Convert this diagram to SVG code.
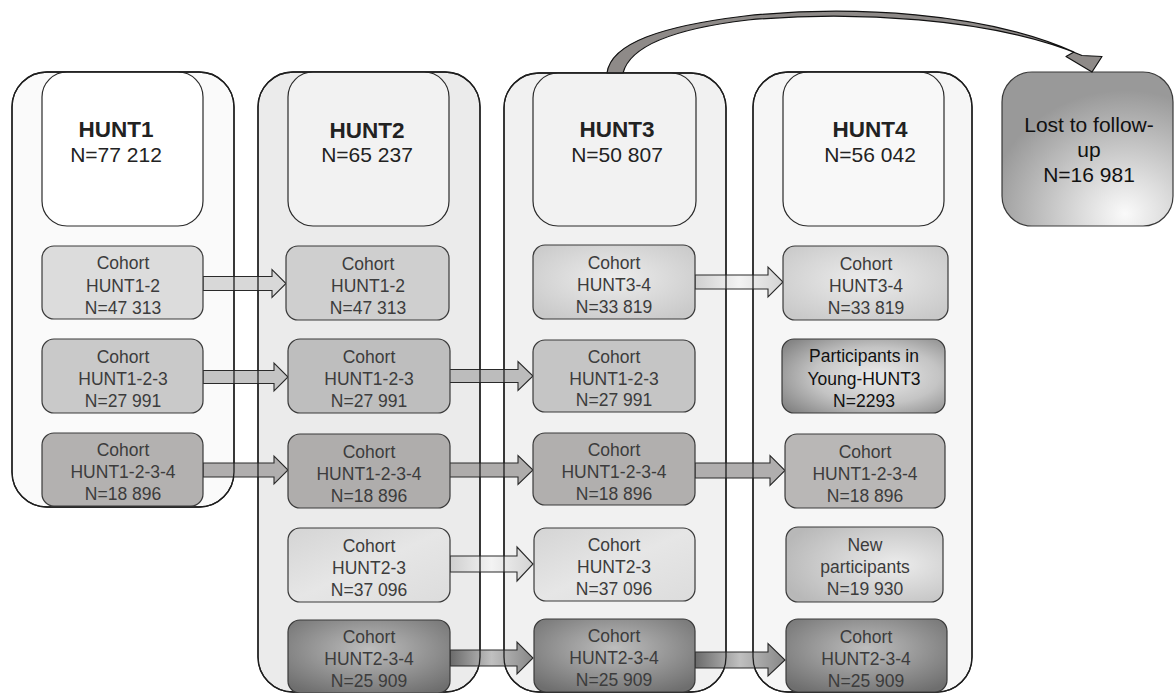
<svg xmlns="http://www.w3.org/2000/svg" width="1175" height="693" viewBox="0 0 1175 693">
<style>
.outer{stroke:#1e1e1e;stroke-width:1.3}
.edge{fill:none;stroke:#1e1e1e;stroke-width:1.3}
.head{stroke:#2a2a2a;stroke-width:1.2}
.box{stroke:#3a3a3a;stroke-width:1.2}
.arr{stroke:#2a2a2a;stroke-width:1.1}
.h{font-family:"Liberation Sans",Arial,sans-serif;font-weight:bold;font-size:22.5px;fill:#222;text-anchor:middle}
.n{font-family:"Liberation Sans",Arial,sans-serif;font-size:21px;fill:#222;text-anchor:middle}
.t{font-family:"Liberation Sans",Arial,sans-serif;font-size:17.5px;fill:#3c3c3c;text-anchor:middle}
.tb{font-family:"Liberation Sans",Arial,sans-serif;font-size:17.5px;fill:#111;text-anchor:middle}
.lost{font-family:"Liberation Sans",Arial,sans-serif;font-size:21px;fill:#111;text-anchor:middle}
</style>
<defs>
<linearGradient id="gLight" x1="0" y1="0" x2="1" y2="1">
<stop offset="0" stop-color="#d4d4d4"/><stop offset="0.5" stop-color="#e6e6e6"/><stop offset="1" stop-color="#dcdcdc"/>
</linearGradient>
<radialGradient id="gLightRad" cx="0.5" cy="0.45" r="0.65">
<stop offset="0" stop-color="#ececec"/><stop offset="1" stop-color="#c9c9c9"/>
</radialGradient>
<radialGradient id="gDark" cx="0.5" cy="0.4" r="0.7">
<stop offset="0" stop-color="#bdbdbd"/><stop offset="1" stop-color="#6e6e6e"/>
</radialGradient>
<radialGradient id="gPart" cx="0.58" cy="0.5" r="0.7">
<stop offset="0" stop-color="#ececec"/><stop offset="0.55" stop-color="#c4c4c4"/><stop offset="1" stop-color="#858585"/>
</radialGradient>
<radialGradient id="gNew" cx="0.7" cy="0.5" r="0.75">
<stop offset="0" stop-color="#ececec"/><stop offset="1" stop-color="#b8b8b8"/>
</radialGradient>
<radialGradient id="gLost" cx="0.72" cy="0.92" r="0.8">
<stop offset="0" stop-color="#fafafa"/><stop offset="0.3" stop-color="#dedede"/><stop offset="1" stop-color="#999"/>
</radialGradient>
<linearGradient id="aLight" x1="0" y1="0" x2="1" y2="0">
<stop offset="0" stop-color="#cfcfcf"/><stop offset="0.5" stop-color="#f3f3f3"/><stop offset="1" stop-color="#d3d3d3"/>
</linearGradient>
<linearGradient id="aDark" x1="0" y1="0" x2="1" y2="0">
<stop offset="0" stop-color="#6a6a6a"/><stop offset="0.5" stop-color="#c0c0c0"/><stop offset="1" stop-color="#878787"/>
</linearGradient>
</defs>

<g id="hunt1">
<rect class="outer" x="12" y="72" width="222" height="435" rx="35" fill="#fafafa"/>
<rect class="head" x="42" y="72" width="161" height="154" rx="25" fill="#ffffff"/>
<text class="h" x="116" y="137">HUNT1</text>
<text class="n" x="116" y="162">N=77 212</text>
</g>
<g id="hunt2">
<rect class="outer" x="258" y="72" width="222" height="620" rx="35" fill="#ebebeb"/>
<rect class="head" x="288" y="72" width="161" height="154" rx="25" fill="#f2f2f2"/>
<text class="h" x="367" y="138">HUNT2</text>
<text class="n" x="367" y="162">N=65 237</text>
</g>
<g id="hunt3">
<rect class="outer" x="504" y="73" width="222" height="619" rx="35" fill="#f1f1f1"/>
<rect class="head" x="533" y="73" width="163" height="153" rx="25" fill="#f2f2f2"/>
<text class="h" x="617" y="137">HUNT3</text>
<text class="n" x="617" y="162">N=50 807</text>
</g>
<g id="hunt4">
<rect class="outer" x="753" y="72" width="219" height="620" rx="35" fill="#f6f6f6"/>
<rect class="head" x="783" y="72" width="161" height="154" rx="25" fill="#f8f8f8"/>
<text class="h" x="870" y="137">HUNT4</text>
<text class="n" x="870" y="162">N=56 042</text>
</g>
<g id="lost">
<rect class="box" x="1002" y="72" width="171" height="154" rx="30" fill="url(#gLost)"/>
<text class="lost" x="1089" y="132">Lost to follow-</text>
<text class="lost" x="1089" y="157">up</text>
<text class="lost" x="1089" y="182">N=16 981</text>
</g>

<g id="connectors">
<path class="arr" fill="#d8d8d8" d="M203 276.5 L272 276.5 L272 269.5 L286 283.5 L272 297.5 L272 290.5 L203 290.5 Z"/>
<path class="arr" fill="#c4c4c4" d="M203 370.5 L274 370.5 L274 363 L288 377 L274 391 L274 383.5 L203 383.5 Z"/>
<path class="arr" fill="#b0aeae" d="M203 463 L274 463 L274 456 L288 470 L274 484 L274 477 L203 477 Z"/>
<path class="arr" fill="#bcbcbc" d="M449 369.5 L518 369.5 L518 361.5 L533 376 L518 390.5 L518 382.5 L449 382.5 Z"/>
<path class="arr" fill="#aeacab" d="M449 463 L518 463 L518 455.5 L533 470 L518 484.5 L518 477 L449 477 Z"/>
<path class="arr" fill="url(#aLight)" d="M450 556 L517 556 L517 547 L533 564 L517 581 L517 572 L450 572 Z"/>
<path class="arr" fill="url(#aDark)" d="M450 650 L517 650 L517 642 L533 658 L517 674 L517 666 L450 666 Z"/>
<path class="arr" fill="url(#aLight)" d="M695 275 L768 275 L768 267 L783 282 L768 297 L768 289 L695 289 Z"/>
<path class="arr" fill="#b0aeae" d="M695 463 L770 463 L770 455.5 L785 470.5 L770 485.5 L770 478 L695 478 Z"/>
<path class="arr" fill="url(#aDark)" d="M695 652 L768 652 L768 643.5 L785 660 L768 676 L768 668 L695 668 Z"/>
<path fill="#8e8a88" stroke="#111" stroke-width="1.2" stroke-linejoin="round" d="M607 73 C611 43 662 26 745 16 C850 5 985 12 1074 52 L1066 56.5 L1092 72 L1102 56.5 L1082 55.5 C990 17 850 11 748 20 C672 29 630 46 623 73 Z"/>
</g>

<g id="column-edges">
<rect class="edge" x="12" y="72" width="222" height="435" rx="35"/>
<rect class="edge" x="258" y="72" width="222" height="620" rx="35"/>
<rect class="edge" x="504" y="73" width="222" height="619" rx="35"/>
<rect class="edge" x="753" y="72" width="219" height="620" rx="35"/>
</g>

<g id="c1-r1"><rect class="box" x="42" y="246" width="161" height="73" rx="12" fill="#dcdcdc"/>
<text class="t" x="123" y="269">Cohort</text><text class="t" x="123" y="291.5">HUNT1-2</text><text class="t" x="123" y="313.5">N=47 313</text></g>
<g id="c1-r2"><rect class="box" x="42" y="339" width="161" height="74" rx="12" fill="#c9c9c9"/>
<text class="t" x="123" y="362.5">Cohort</text><text class="t" x="123" y="384.5">HUNT1-2-3</text><text class="t" x="123" y="406.5">N=27 991</text></g>
<g id="c1-r3"><rect class="box" x="42" y="433" width="161" height="73" rx="12" fill="#b3b1b0"/>
<text class="t" x="123" y="456">Cohort</text><text class="t" x="123" y="478">HUNT1-2-3-4</text><text class="t" x="123" y="500">N=18 896</text></g>

<g id="c2-r1"><rect class="box" x="286" y="246" width="163" height="74" rx="12" fill="#cfcfcf"/>
<text class="t" x="368" y="269.5">Cohort</text><text class="t" x="368" y="291.5">HUNT1-2</text><text class="t" x="368" y="313.5">N=47 313</text></g>
<g id="c2-r2"><rect class="box" x="288" y="339" width="162" height="74" rx="12" fill="#bebebe"/>
<text class="t" x="369" y="362.5">Cohort</text><text class="t" x="369" y="384.5">HUNT1-2-3</text><text class="t" x="369" y="406.5">N=27 991</text></g>
<g id="c2-r3"><rect class="box" x="288" y="434" width="162" height="74" rx="12" fill="#afadac"/>
<text class="t" x="369" y="457.5">Cohort</text><text class="t" x="369" y="479.5">HUNT1-2-3-4</text><text class="t" x="369" y="501.5">N=18 896</text></g>
<g id="c2-r4"><rect class="box" x="288" y="528" width="162" height="74" rx="12" fill="url(#gLight)"/>
<text class="t" x="369" y="551.5">Cohort</text><text class="t" x="369" y="573.5">HUNT2-3</text><text class="t" x="369" y="595.5">N=37 096</text></g>
<g id="c2-r5"><rect class="box" x="288" y="620" width="162" height="73" rx="12" fill="url(#gDark)"/>
<text class="t" x="369" y="643">Cohort</text><text class="t" x="369" y="665">HUNT2-3-4</text><text class="t" x="369" y="687">N=25 909</text></g>

<g id="c3-r1"><rect class="box" x="533" y="245" width="162" height="74" rx="12" fill="url(#gLightRad)"/>
<text class="t" x="614" y="268.5">Cohort</text><text class="t" x="614" y="290.5">HUNT3-4</text><text class="t" x="614" y="312.5">N=33 819</text></g>
<g id="c3-r2"><rect class="box" x="533" y="340" width="162" height="72" rx="12" fill="#c5c5c5"/>
<text class="t" x="614" y="362.5">Cohort</text><text class="t" x="614" y="384.5">HUNT1-2-3</text><text class="t" x="614" y="406">N=27 991</text></g>
<g id="c3-r3"><rect class="box" x="533" y="433" width="162" height="72" rx="12" fill="#b1afae"/>
<text class="t" x="614" y="456">Cohort</text><text class="t" x="614" y="478">HUNT1-2-3-4</text><text class="t" x="614" y="499.5">N=18 896</text></g>
<g id="c3-r4"><rect class="box" x="534" y="528" width="161" height="73" rx="12" fill="url(#gLight)"/>
<text class="t" x="614" y="551">Cohort</text><text class="t" x="614" y="573">HUNT2-3</text><text class="t" x="614" y="595">N=37 096</text></g>
<g id="c3-r5"><rect class="box" x="534" y="619" width="161" height="73" rx="12" fill="url(#gDark)"/>
<text class="t" x="614" y="642">Cohort</text><text class="t" x="614" y="664">HUNT2-3-4</text><text class="t" x="614" y="686">N=25 909</text></g>

<g id="c4-r1"><rect class="box" x="783" y="246" width="165" height="74" rx="12" fill="url(#gLightRad)"/>
<text class="t" x="866" y="269.5">Cohort</text><text class="t" x="866" y="291.5">HUNT3-4</text><text class="t" x="866" y="313.5">N=33 819</text></g>
<g id="c4-r2"><rect class="box" x="782" y="339" width="163" height="74" rx="12" fill="url(#gPart)"/>
<text class="tb" x="864" y="362">Participants in</text><text class="tb" x="864" y="384.5">Young-HUNT3</text><text class="tb" x="864" y="406.5">N=2293</text></g>
<g id="c4-r3"><rect class="box" x="785" y="434" width="160" height="74" rx="12" fill="#b9b7b6"/>
<text class="t" x="865" y="457.5">Cohort</text><text class="t" x="865" y="479.5">HUNT1-2-3-4</text><text class="t" x="865" y="501.5">N=18 896</text></g>
<g id="c4-r4"><rect class="box" x="786" y="527" width="157" height="75" rx="12" fill="url(#gNew)"/>
<text class="t" x="865" y="551">New</text><text class="t" x="865" y="573">participants</text><text class="t" x="865" y="595">N=19 930</text></g>
<g id="c4-r5"><rect class="box" x="786" y="619" width="161" height="73" rx="12" fill="url(#gDark)"/>
<text class="t" x="866" y="642.5">Cohort</text><text class="t" x="866" y="664.5">HUNT2-3-4</text><text class="t" x="866" y="686.5">N=25 909</text></g>
</svg>
